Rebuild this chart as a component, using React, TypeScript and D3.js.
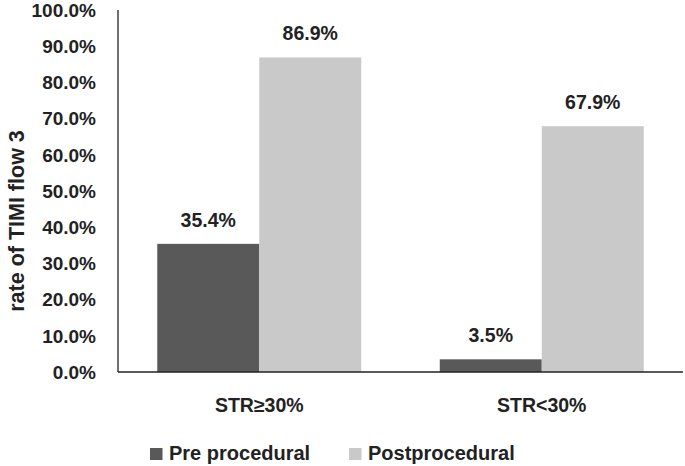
import React from "react";
import * as d3 from "d3";

const categories = ["STR≥30%", "STR<30%"];
const seriesNames = ["Pre procedural", "Postprocedural"];
const preValues = [0.354, 0.035];
const postValues = [0.869, 0.679];
const yTicks = [0, 0.1, 0.2, 0.3, 0.4, 0.5, 0.6, 0.7, 0.8, 0.9, 1.0];
const colors = ["#595959", "#c9c9c9"];

const W = 685;
const H = 466;
const left = 118;
const right = 683;
const top = 10;
const bottom = 372;
const FONT = "'Liberation Sans', Arial, Helvetica, sans-serif";
const TEXT = "#222222";

export default function App() {
  const x0 = d3
    .scaleBand<string>()
    .domain(categories)
    .range([left, right])
    .paddingInner(0.278)
    .paddingOuter(0.139);
  const x1 = d3
    .scaleBand<string>()
    .domain(seriesNames)
    .range([0, x0.bandwidth()])
    .padding(0);
  const y = d3.scaleLinear().domain([0, 1]).range([bottom, top]);
  const fmt = d3.format(".1%");
  const series = [preValues, postValues];

  return (
    <svg
      width={W}
      height={H}
      style={{ position: "absolute", left: 0, top: 0, background: "#fff" }}
      fontFamily={FONT}
      fontWeight="bold"
    >
      <rect x={0} y={0} width={W} height={H} fill="#fff" />
      {/* bars */}
      {categories.map((c, ci) => (
        <g key={c} transform={`translate(${x0(c)},0)`}>
          {seriesNames.map((s, si) => {
            const v = series[si][ci];
            const bx = x1(s)!;
            return (
              <g key={s}>
                <rect
                  x={bx}
                  y={y(v)}
                  width={x1.bandwidth()}
                  height={bottom - y(v)}
                  fill={colors[si]}
                />
                <text
                  x={bx + x1.bandwidth() / 2}
                  y={y(v) - 17}
                  textAnchor="middle"
                  fontSize={19.5}
                  fill={TEXT}
                >
                  {fmt(v)}
                </text>
              </g>
            );
          })}
        </g>
      ))}
      {/* axes */}
      <line x1={left} x2={left} y1={top} y2={bottom} stroke="#222" strokeWidth={1.3} />
      <line x1={left} x2={right} y1={bottom} y2={bottom} stroke="#222" strokeWidth={1.3} />
      {yTicks.map((t) => (
        <text
          key={t}
          x={96}
          y={y(t)}
          dy="0.36em"
          textAnchor="end"
          fontSize={19}
          fill={TEXT}
        >
          {fmt(t)}
        </text>
      ))}
      {categories.map((c) => (
        <text
          key={c}
          x={x0(c)! + x0.bandwidth() / 2}
          y={412}
          textAnchor="middle"
          fontSize={19.5}
          fill={TEXT}
        >
          {c}
        </text>
      ))}
      <text
        transform={`translate(24,221) rotate(-90)`}
        textAnchor="middle"
        fontSize={21.5}
        fill={TEXT}
      >
        rate of TIMI flow 3
      </text>
      {/* legend */}
      {seriesNames.map((s, i) => {
        const lx = i === 0 ? 150 : 349;
        return (
          <g key={s}>
            <rect x={lx} y={448} width={12.5} height={12} fill={colors[i]} />
            <text x={lx + 19} y={460} fontSize={20} fill={TEXT}>
              {s}
            </text>
          </g>
        );
      })}
    </svg>
  );
}
